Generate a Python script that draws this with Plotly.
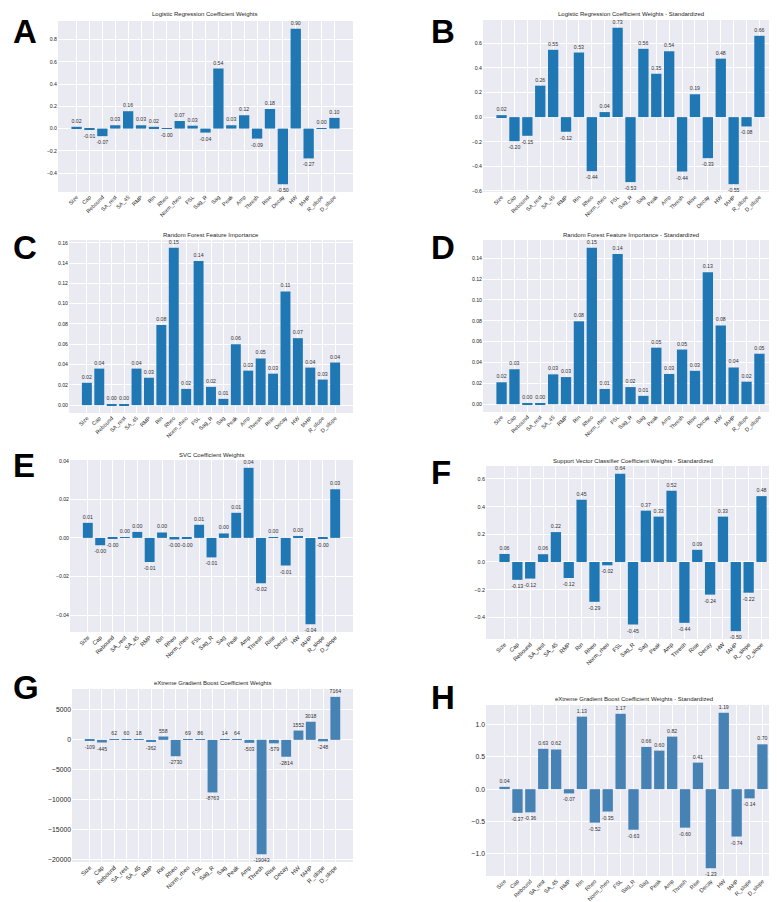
import plotly.graph_objects as go

features = ["Size", "Cap", "Rebound", "SA_rest", "SA_45", "RMP", "Rin", "Rheo", "Norm_rheo", "FSL",
            "Sag_R", "Sag", "Peak", "Amp", "Thresh", "Rise", "Decay", "HW", "fAHP", "R_slope", "D_slope"]

lr_weights = [0.016, -0.008, -0.068, 0.03, 0.156, 0.03, 0.016, -0.002, 0.068, 0.026, -0.036, 0.54, 0.03,
              0.12, -0.09, 0.176, -0.50, 0.897, -0.268, 0.002, 0.096]
lr_std = [0.016, -0.196, -0.152, 0.256, 0.548, -0.119, 0.526, -0.44, 0.041, 0.727, -0.529, 0.556, 0.353,
          0.536, -0.443, 0.186, -0.334, 0.476, -0.546, -0.076, 0.662]
rf_imp = [0.022, 0.036, 0.0002, 0.0003, 0.036, 0.027, 0.079, 0.155, 0.016, 0.142, 0.018, 0.0062, 0.060,
          0.034, 0.046, 0.031, 0.112, 0.066, 0.037, 0.0252, 0.042]
rf_std = [0.021, 0.0335, 0.0002, 0.0002, 0.0286, 0.026, 0.0795, 0.150, 0.0146, 0.144, 0.0164, 0.008, 0.0542,
          0.029, 0.0524, 0.032, 0.1266, 0.0755, 0.0352, 0.0216, 0.0484]
svc_weights = [0.0078, -0.0038, -0.0005, 0.0002, 0.0031, -0.0125, 0.0028, -0.0008, -0.0002, 0.0068, -0.0101,
               0.0023, 0.013, 0.0363, -0.0235, 0.0004, -0.0143, 0.001, -0.0447, -0.0002, 0.0252]
svc_std = [0.058, -0.129, -0.12, 0.056, 0.216, -0.116, 0.45, -0.288, -0.024, 0.637, -0.452, 0.371, 0.328,
           0.515, -0.44, 0.088, -0.236, 0.328, -0.50, -0.222, 0.476]
xgb_weights = [-109, -445, 62, 60, 18, -362, 558, -2730, 69, 86, -8763, 14, 64, -503, -19043, -579, -2814,
               1552, 3018, -248, 7164]
xgb_std = [0.036, -0.368, -0.36, 0.626, 0.616, -0.066, 1.126, -0.52, -0.348, 1.17, -0.63, 0.656, 0.598,
           0.816, -0.598, 0.412, -1.228, 1.186, -0.736, -0.143, 0.696]

W, H = 777, 902
FONT = "Liberation Sans, Arial, sans-serif"
BLUE = "#1f77b4"
STEEL = "#4682b4"

panels = [
    # letter, title, values, colour, box(l,t,r,b), dtick, tickformat, label fmt, letter (x, cap top), title y, ytick size, xtick size
    ("A", "Logistic Regression Coefficient Weights", lr_weights, BLUE, (50, 13, 345, 184), 0.2, ".1f", "{:.2f}", (3, 12), 6, 5.2, 5.5),
    ("B", "Logistic Regression Coefficient Weights - Standardized", lr_std, BLUE, (475, 12, 770, 184), 0.2, ".1f", "{:.2f}", (421, 12), 6, 5.2, 5.5),
    ("C", "Random Forest Feature Importance", rf_imp, BLUE, (61, 232, 345, 405), 0.02, ".2f", "{:.2f}", (3, 228), 227, 5.2, 5.5),
    ("D", "Random Forest Feature Importance - Standardized", rf_std, BLUE, (475, 232, 770, 404), 0.02, ".2f", "{:.2f}", (421, 228), 227, 5.2, 5.5),
    ("E", "SVC Coefficient Weights", svc_weights, BLUE, (62, 452, 345, 624), 0.02, ".2f", "{:.2f}", (3, 446), 447, 5.2, 5.8),
    ("F", "Support Vector Classifier Coefficient Weights - Standardized", svc_std, BLUE, (478, 458, 772, 631), 0.2, ".1f", "{:.2f}", (421, 453), 453, 5.4, 5.8),
    ("G", "eXtreme Gradient Boost Coefficient Weights", xgb_weights, STEEL, (64, 681, 345, 854), 5000, "d", "{:.0f}", (3, 668), 675, 6.8, 6.0),
    ("H", "eXtreme Gradient Boost Coefficient Weights - Standardized", xgb_std, STEEL, (478, 697, 773, 868), 0.5, ".1f", "{:.2f}", (421, 678), 691, 6.8, 5.6),
]

LETTER_SIZE = 33

fig = go.Figure()
annotations = []
layout_axes = {}

for i, (letter, title, vals, color, box, dtick, tfmt, lfmt, lpos, ty, ysz, xsz) in enumerate(panels):
    n = i + 1
    xa = "x" if n == 1 else f"x{n}"
    ya = "y" if n == 1 else f"y{n}"
    xkey = "xaxis" if n == 1 else f"xaxis{n}"
    ykey = "yaxis" if n == 1 else f"yaxis{n}"
    l, t, r, b = box
    fig.add_trace(go.Bar(
        x=features, y=vals, xaxis=xa, yaxis=ya,
        marker=dict(color=color, line=dict(width=0)),
        text=[lfmt.format(v) for v in vals],
        textposition="outside", constraintext="none", cliponaxis=False,
        textfont=dict(size=5.2, color="#333333", family=FONT),
        showlegend=False, hoverinfo="skip",
    ))
    lo = min(0, min(vals))
    hi = max(0, max(vals))
    pad = (hi - lo) * 0.05
    layout_axes[xkey] = dict(
        domain=[l / W, r / W], anchor=ya, type="category", range=[-1.44, 21.44],
        showgrid=True, gridcolor="white", gridwidth=1, zeroline=False, showline=False,
        tickangle=-45, tickfont=dict(size=xsz, color="#262626", family=FONT), ticks="",
        automargin=False,
    )
    layout_axes[ykey] = dict(
        domain=[1 - b / H, 1 - t / H], anchor=xa, range=[lo - pad, hi + pad],
        dtick=dtick, tick0=0, tickformat=tfmt,
        showgrid=True, gridcolor="white", gridwidth=1, zeroline=False, showline=False,
        tickfont=dict(size=ysz, color="#262626", family=FONT), ticks="",
        automargin=False,
    )
    annotations.append(dict(
        text=title, x=(l + r) / 2 / W, y=1 - ty / H, xref="paper", yref="paper",
        xanchor="center", yanchor="middle", showarrow=False,
        font=dict(size=6, color="#262626", family=FONT),
    ))
    cap_center = lpos[1] + 0.358 * LETTER_SIZE
    annotations.append(dict(
        text=f"<b>{letter}</b>", x=lpos[0] / W, y=1 - cap_center / H, xref="paper", yref="paper",
        xanchor="left", yanchor="middle", showarrow=False,
        font=dict(size=LETTER_SIZE, color="black", family=FONT),
    ))

fig.update_layout(
    width=W, height=H, margin=dict(l=0, r=0, t=0, b=0),
    paper_bgcolor="white", plot_bgcolor="#EAEAF2",
    bargap=0.2, annotations=annotations, font=dict(family=FONT),
    **layout_axes,
)

fig.write_html("out.html")
